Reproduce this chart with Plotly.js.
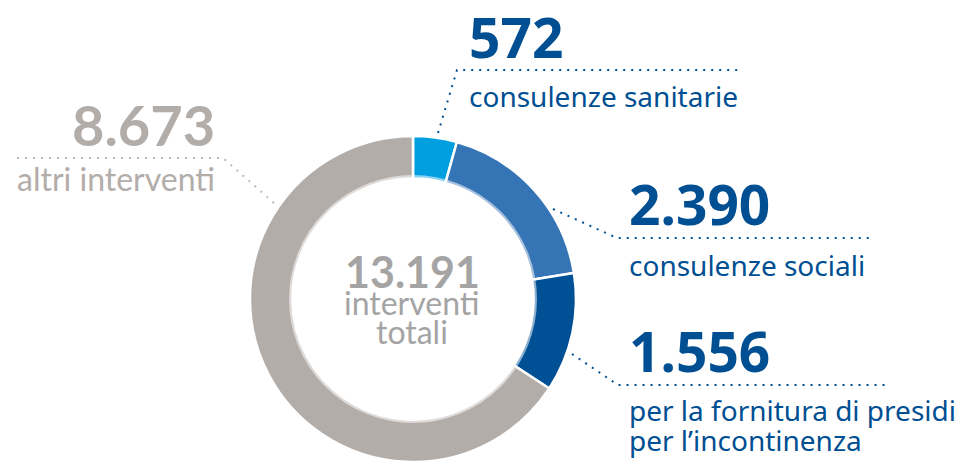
<!DOCTYPE html>
<html>
<head>
<meta charset="utf-8">
<script src="https://cdn.plot.ly/plotly-3.0.1.min.js"></script>
<style>html,body{margin:0;padding:0;background:#fff;}#chart{width:961px;height:463px;}</style>
</head>
<body>
<div id="chart"></div>
<script>
// ---- data ----
const categories = ["consulenze sanitarie", "consulenze sociali", "per la fornitura di presidi<br>per l’incontinenza", "altri interventi"];
const values = [572, 2390, 1556, 8673];
const valueLabels = ["572", "2.390", "1.556", "8.673"];
const totalLabel = "13.191";
const totalCaption = ["interventi", "totali"];
const sliceColors = ["#009FE0", "#3574B5", "#005096", "#B3ADAA"];

// ---- geometry helpers (pixel -> paper) ----
const W = 961, H = 463;
const px = x => x / W;
const py = y => 1 - y / H;
const cx = 413, cy = 299, R = 163;

const blue = "#004F93";
const grayTxt = "#B3ADAA";
const centerGray = "#A4A4A4";
const blueFont = "Noto Sans, Open Sans, sans-serif";
const grayFont = "Lato, sans-serif";

const trace = {
  type: "pie",
  labels: categories,
  values: values,
  sort: false,
  direction: "clockwise",
  rotation: 0,
  hole: 0.74,
  textinfo: "none",
  hoverinfo: "label+value",
  marker: { colors: sliceColors, line: { color: "#ffffff", width: 2.5 } },
  domain: { x: [px(cx - R), px(cx + R)], y: [1 - (cy + R) / H, 1 - (cy - R) / H] },
  showlegend: false
};

function ann(text, x, y, size, color, family, bold, xanchor) {
  return {
    xref: "paper", yref: "paper", x: px(x), y: py(y),
    xanchor: xanchor || "left", yanchor: "middle",
    text: bold ? "<b>" + text + "</b>" : text,
    showarrow: false, borderpad: 0,
    align: xanchor === "right" ? "right" : (xanchor === "center" ? "center" : "left"),
    font: { size: size, color: color, family: family }
  };
}

const annotations = [
  ann(valueLabels[0], 468, 36, 55, blue, blueFont, true),
  ann("consulenze sanitarie", 468, 96, 28, blue, blueFont, false),
  ann(valueLabels[1], 628, 203, 55, blue, blueFont, true),
  ann("consulenze sociali", 628, 265, 28, blue, blueFont, false),
  ann(valueLabels[2], 628, 350, 55, blue, blueFont, true),
  ann("per la fornitura di presidi", 628, 410, 28, blue, blueFont, false),
  ann("per l’incontinenza", 628, 440, 28, blue, blueFont, false),
  ann(valueLabels[3], 216, 124, 56, grayTxt, grayFont, true, "right"),
  ann("altri interventi", 216, 179, 32, grayTxt, grayFont, false, "right"),
  ann(totalLabel, 412, 271, 43, centerGray, grayFont, true, "center"),
  ann(totalCaption[0], 412, 302, 32, centerGray, grayFont, false, "center"),
  ann(totalCaption[1], 412, 331, 32, centerGray, grayFont, false, "center")
];

function dotted(pts, color) {
  const path = "M " + pts.map(p => px(p[0]) + "," + py(p[1])).join(" L ");
  return { type: "path", xref: "paper", yref: "paper", path: path,
    line: { color: color, width: 2, dash: "2px,6px" } };
}

const shapes = [
  dotted([[438, 133], [457, 70], [742, 70]], blue),
  dotted([[553, 209], [617, 238], [873, 238]], blue),
  dotted([[572, 354], [618, 385], [888, 385]], blue),
  dotted([[274, 203], [223, 158], [12, 158]], "#BDB8B5"),
  { type: "circle", xref: "paper", yref: "paper",
    x0: px(cx - 122), x1: px(cx + 122), y0: py(cy + 122), y1: py(cy - 122),
    line: { color: "rgba(255,255,255,0.55)", width: 4 } }
];

const layout = {
  width: W, height: H,
  margin: { l: 0, r: 0, t: 0, b: 0 },
  paper_bgcolor: "#ffffff",
  plot_bgcolor: "#ffffff",
  showlegend: false,
  annotations: annotations,
  shapes: shapes
};

Plotly.newPlot("chart", [trace], layout, { displayModeBar: false, staticPlot: true });
</script>
</body>
</html>
